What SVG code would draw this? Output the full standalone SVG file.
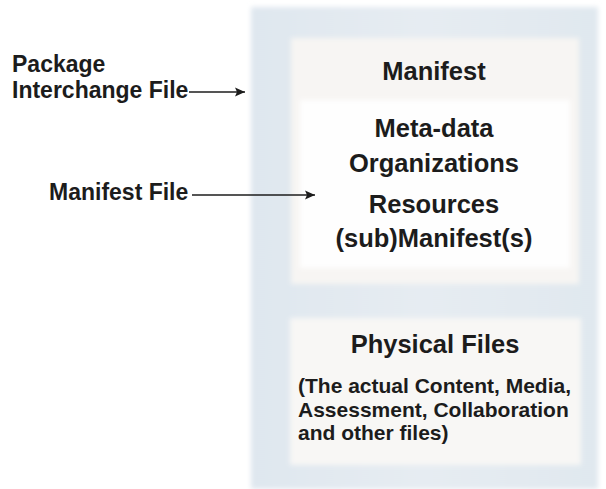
<svg xmlns="http://www.w3.org/2000/svg" width="606" height="489" viewBox="0 0 606 489">
  <style>
    text { font-family: "Liberation Sans", Arial, sans-serif; font-weight: bold; fill: #1c1c1c; }
    .big { font-size: 25.5px; text-anchor: middle; }
    .small { font-size: 21px; }
    .lab { font-size: 23px; }
    .conn { stroke: #1c1c1c; stroke-width: 1.6; fill: none; }
  </style>
  <defs>
    <marker id="arr" viewBox="0 0 10 10" refX="10" refY="5" markerWidth="13" markerHeight="10" markerUnits="userSpaceOnUse" orient="auto">
      <path d="M0,0.5 L10,5 L0,9.5 L2,5 Z" fill="#1c1c1c"/>
    </marker>
    <filter id="soft" x="-5%" y="-5%" width="110%" height="110%">
      <feGaussianBlur stdDeviation="2.5"/>
    </filter>
    <linearGradient id="panel" x1="0" y1="0" x2="1" y2="0">
      <stop offset="0" stop-color="#dfe7ef"/>
      <stop offset="0.5" stop-color="#e6ecf2"/>
      <stop offset="1" stop-color="#e0e8ef"/>
    </linearGradient>
  </defs>
  <rect width="606" height="489" fill="#ffffff"/>

  <g id="package">
    <rect x="251" y="7" width="347" height="482" fill="url(#panel)" filter="url(#soft)"/>
  </g>

  <g id="manifest">
    <rect x="291" y="38" width="288" height="246" fill="#f7f5f3" filter="url(#soft)"/>
    <text class="big" x="434" y="80">Manifest</text>
    <rect x="300" y="100" width="270" height="168" fill="#fefefe" filter="url(#soft)"/>
    <text class="big" x="434" y="137">Meta-data</text>
    <text class="big" x="434" y="172">Organizations</text>
    <text class="big" x="434" y="213">Resources</text>
    <text class="big" x="434" y="247">(sub)Manifest(s)</text>
  </g>

  <g id="physical">
    <rect x="290" y="318" width="291" height="147" fill="#f8f7f5" filter="url(#soft)"/>
    <text class="big" x="435" y="353">Physical Files</text>
    <text class="small" x="298" y="393">(The actual Content, Media,</text>
    <text class="small" x="298" y="417">Assessment, Collaboration</text>
    <text class="small" x="298" y="440">and other files)</text>
  </g>

  <g id="label-pif">
    <text class="lab" x="12" y="72">Package</text>
    <text class="lab" x="12" y="98">Interchange File</text>
  </g>
  <g id="label-mf">
    <text class="lab" x="49" y="200">Manifest File</text>
  </g>

  <g id="connectors">
    <line class="conn" x1="189" y1="92" x2="245" y2="92" marker-end="url(#arr)"/>
    <line class="conn" x1="192" y1="195" x2="315" y2="195" marker-end="url(#arr)"/>
  </g>
</svg>
